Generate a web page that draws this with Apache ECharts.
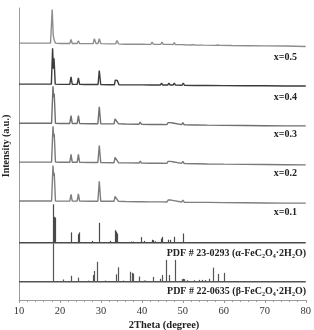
<!DOCTYPE html>
<html>
<head>
<meta charset="utf-8">
<script src="https://cdn.jsdelivr.net/npm/echarts@6/dist/echarts.min.js"></script>
<style>
html,body{margin:0;padding:0;background:#fff;}
#chart{width:314px;height:330px;}
</style>
</head>
<body>
<div id="chart"></div>
<script>
// ---- Data (2Theta in degrees, intensity in a.u.) ----
const xTicks = [10, 20, 30, 40, 50, 60, 70, 80];

const trace05 = [
[10,10],[14,10],[16,10],[17.7,10],[18.1,101],[18.35,32],[18.6,18],[18.9,10],
[20,9],[22.4,9],[22.7,20],[23.0,9],[24.2,9],[24.5,16],[24.8,9],[26,8.5],[28.1,8.5],[28.4,22],[28.8,9],
[29.3,9],[29.6,22],[30,8.5],[32,8],[33.6,8],[33.9,17],[34.3,8],[36,7],[39.6,7],[39.9,10],[40.2,7],
[41,6.5],[42.2,7],[42.5,13],[42.8,7],[44,6.5],[44.6,7],[44.9,13],[45.2,6.5],[46.2,6.5],[46.6,8],[47.0,6.5],
[47.6,6],[47.9,11.5],[48.2,6],[49.8,6],[50.1,11],[50.5,5.5],[52,5],[52.5,6],[53,5],[55,4.5],[58,4],[58.5,5],[59,4],
[62,3.5],[66,3],[70,2.5],[75,2],[80,1]
];
const trace04 = [
[10,8],[14,8],[16,8],[17.9,8],[18.2,105],[18.4,50],[18.55,78],[18.85,8],[20,7.5],[22.4,7.5],[22.7,28],[23.0,7.5],
[24.2,7.5],[24.5,25],[24.8,7.5],[26,7],[28.1,7],[28.4,12],[28.7,7],[29.3,7],[29.6,45],[29.95,7],[32,6.5],
[33.3,6.5],[33.5,19],[33.8,16],[34.0,18],[34.4,6.5],[36,6],[39.5,6],[39.8,10],[40.1,6],[42.2,5.5],[42.5,10],
[42.8,5.5],[44.5,5.5],[44.8,11],[45.1,5.5],[46.3,5.5],[46.6,11],[46.9,5.5],[47.6,5.5],[47.9,11],[48.2,5.5],
[49.8,5],[50.1,10.5],[50.4,5],[53,4.5],[56,4.5],[60,4],[65,3.5],[70,3.5],[75,3],[80,3]
];
const trace03 = [
[10,9],[14,9],[16,9],[17.95,9],[18.3,109],[18.45,80],[18.6,89],[18.9,9],[20,8.5],[22.4,8.5],[22.7,30],[23.0,8.5],
[24.2,8.5],[24.5,30],[24.8,8.5],[27.7,8],[28.0,11],[28.3,8],[29.25,8],[29.6,54],[29.95,8],[33.2,7.5],[33.45,21],
[33.7,17],[33.9,19],[34.3,7.5],[36,7],[39.3,6.5],[39.6,12],[39.9,6.5],[42.2,6],[42.5,10],[42.8,6],[44.3,6],
[44.6,11],[44.9,6],[46.1,5.5],[46.4,11],[46.65,7],[46.9,11],[47.2,6],[47.5,10],[47.8,5.5],[49.7,5.5],[50.0,11],
[50.35,5],[53,4.5],[56,4],[60,3.5],[65,3],[70,2.5],[75,2],[80,2]
];
const trace02 = [
[10,9],[14,9],[16,9],[17.95,9],[18.3,106],[18.45,78],[18.6,86],[18.9,9],[20,8.5],[22.4,8.5],[22.7,30],[23.0,8.5],
[24.2,8.5],[24.5,30],[24.8,8.5],[27.7,8],[28.0,11],[28.3,8],[29.25,8],[29.6,54],[29.95,8],[33.2,7.5],[33.45,22],
[33.7,18],[33.9,20],[34.3,7.5],[36,7],[39.3,6.5],[39.6,12],[39.9,6.5],[42.2,6],[42.5,10],[42.8,6],[44.3,6],
[44.6,11],[44.9,6],[46.1,5.5],[46.4,11],[46.65,7],[46.9,11],[47.2,6],[47.5,10],[47.8,5.5],[49.7,5.5],[50.0,11],
[50.35,5],[53,4.5],[56,4],[60,3.5],[65,3],[70,2.5],[75,2],[80,1.5]
];
const trace01 = [
[10,8],[14,8],[16,8],[17.95,8],[18.3,104],[18.45,76],[18.6,84],[18.9,8],[20,7.5],[22.4,7.5],[22.7,26],[23.0,7.5],
[24.2,7.5],[24.5,27],[24.8,7.5],[27.7,7],[28.0,10],[28.3,7],[29.25,7],[29.6,61],[29.95,7],[33.2,7],[33.45,20],
[33.7,16],[33.9,18],[34.3,7],[36,6.5],[39.3,6],[39.6,11],[39.9,6],[42.2,5.5],[42.5,9.5],[42.8,5.5],[44.3,5.5],
[44.6,10.5],[44.9,5.5],[46.1,5],[46.4,10.5],[46.65,6.5],[46.9,10.5],[47.2,5.5],[47.5,9.5],[47.8,5],[49.7,5],[50.0,10.5],
[50.35,4.5],[53,4],[56,4],[60,3.5],[65,3],[70,2.5],[75,2],[80,2]
];
// PDF reference sticks: [2Theta, relative intensity]
const pdfAlpha = [
[18.25,104],[18.55,70],[18.7,68],[22.7,28],[24.3,23],[24.6,28],[27.9,5],[29.6,54],[32.1,5],[33.5,34],[33.8,30],
[34.0,25],[37.4,3],[37.9,3],[39.8,15],[40.6,5],[41.3,2],[42.5,8],[42.7,7],[43.1,4],[44.6,11],[44.9,16],[46.4,8],
[46.9,8],[47.9,16],[50.1,25]
];
const pdfBeta = [
[18.25,104],[20.8,6],[22.8,16],[24.5,11],[26.9,3],[28.1,18],[28.4,29],[29.1,54],[31.1,3],[33.7,20],[34.1,39],
[35.3,3],[37.1,27],[37.5,24],[37.9,22],[39.3,14],[40.5,3],[40.7,3],[42.7,13],[44.3,8],[45.0,18],[45.8,59],[46.7,18],
[48.0,59],[49.9,7],[50.1,8],[50.3,7],[51.1,4],[52.7,4],[53.9,5],[54.7,5],[55.5,4.5],[56.3,8],[57.3,38],[58.5,21],[60.1,24]
];
const traceNames = ['x=0.5','x=0.4','x=0.3','x=0.2','x=0.1'];
const pdfNames = ['PDF # 23-0293 (α-FeC₂O₄·2H₂O)','PDF # 22-0635 (β-FeC₂O₄·2H₂O)'];

// ---- Layout (vertical stacking offsets, styles) ----
const traceOffsets = [685, 576, 469, 364, 260];
const pdfOffsets = [155, 49.5];
const traceColors = ['#8d8d8d', '#3c3c3c', '#6f6f6f', '#7a7a7a', '#7f7f7f'];
const pdfColors = ['#4a4a4a', '#555555'];
const serif = '"Liberation Serif","Times New Roman",serif';

const traces = [trace05, trace04, trace03, trace02, trace01];
const series = [];
traces.forEach((t, i) => {
  series.push({
    type: 'line', name: traceNames[i], showSymbol: false, symbol: 'none',
    data: t.map(p => [p[0], p[1] + traceOffsets[i]]),
    lineStyle: { color: traceColors[i], width: 1.4 }, clip: false, silent: true
  });
});
[pdfAlpha, pdfBeta].forEach((sticks, i) => {
  const off = pdfOffsets[i];
  series.push({
    type: 'line', showSymbol: false, symbol: 'none',
    data: [[10, off], [80, off]],
    lineStyle: { color: pdfColors[i], width: 1.4 }, silent: true
  });
  series.push({
    type: 'custom', name: pdfNames[i], silent: true, clip: false,
    data: sticks,
    renderItem: function (params, api) {
      const a = api.coord([api.value(0), off]);
      const b = api.coord([api.value(0), off + api.value(1)]);
      const x = Math.round(a[0]) + 0.5;
      return { type: 'line', shape: { x1: x, y1: a[1], x2: x, y2: b[1] },
        style: { stroke: pdfColors[i], lineWidth: 1.2 } };
    }
  });
});

const labelStyle = { font: 'bold 10px ' + serif, fill: '#222', textAlign: 'right', textVerticalAlign: 'middle' };
const traceLabelY = [57, 97, 134, 173, 212];
const pdfLabelY = [253, 291];
const graphics = [];
traceNames.forEach((n, i) => graphics.push({ type: 'text', x: 297, y: traceLabelY[i], style: Object.assign({ text: n }, labelStyle) }));
pdfNames.forEach((n, i) => graphics.push({ type: 'text', x: 306, y: pdfLabelY[i], style: Object.assign({ text: n }, labelStyle) }));
graphics.push({ type: 'text', x: 6, y: 146, rotation: Math.PI / 2,
  style: { text: 'Intensity (a.u.)', font: 'bold 10px ' + serif, fill: '#222', textAlign: 'center', textVerticalAlign: 'middle' } });
graphics.push({ type: 'text', x: 164, y: 325,
  style: { text: '2Theta (degree)', font: 'bold 10.5px ' + serif, fill: '#222', textAlign: 'center', textVerticalAlign: 'middle' } });

const chart = echarts.init(document.getElementById('chart'), null, { renderer: 'canvas' });
chart.setOption({
  animation: false,
  backgroundColor: '#fff',
  grid: { left: 19, right: 4, top: 8, bottom: 30, containLabel: false },
  xAxis: {
    type: 'value', min: xTicks[0], max: xTicks[xTicks.length - 1], interval: 10,
    axisLine: { lineStyle: { color: '#9a9a9a', width: 1 } },
    axisTick: { show: true, length: 3, lineStyle: { color: '#9a9a9a' } },
    minorTick: { show: true, splitNumber: 5, length: 2, lineStyle: { color: '#9a9a9a' } },
    splitLine: { show: false },
    axisLabel: { fontFamily: serif, fontSize: 10.5, color: '#333', margin: 6 }
  },
  yAxis: {
    type: 'value', min: 0, max: 790,
    axisLine: { show: true, lineStyle: { color: '#9a9a9a', width: 1 } },
    axisTick: { show: false }, axisLabel: { show: false }, splitLine: { show: false }
  },
  series: series,
  graphic: graphics
});
</script>
</body>
</html>
